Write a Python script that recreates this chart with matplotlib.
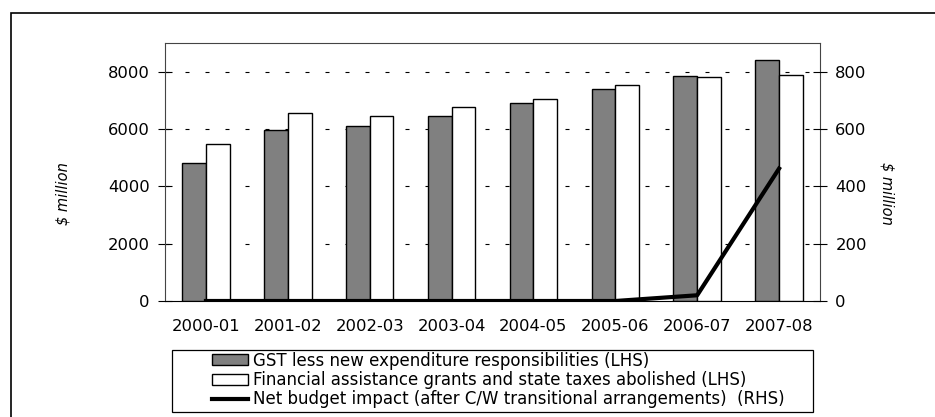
import numpy as np
import matplotlib.pyplot as plt
from matplotlib.patches import Rectangle

plt.rcParams['font.family'] = ['DejaVu Sans']

# data
years = ['2000-01', '2001-02', '2002-03', '2003-04', '2004-05', '2005-06', '2006-07', '2007-08']
gst_less = [4800, 5950, 6090, 6470, 6920, 7380, 7860, 8390]
fag_abolished = [5470, 6550, 6470, 6750, 7030, 7520, 7830, 7900]
net_impact = [0, 0, 0, 0, 0, 0, 20, 462]

fig = plt.figure(figsize=(9.35, 4.17), dpi=100)
# outer frame of the chart object
fig.patches.append(Rectangle((11 / 935, -0.05), 1.0, 1 - 13 / 417 + 0.05,
                             transform=fig.transFigure, fill=False,
                             edgecolor='black', linewidth=1.2))
# legend box
fig.patches.append(Rectangle((172 / 935, 1 - 412 / 417), (813 - 172) / 935, 62 / 417,
                             transform=fig.transFigure, fill=False,
                             edgecolor='black', linewidth=0.9))

ax = fig.add_axes([165 / 935, 1 - 301 / 417, (820 - 165) / 935, (301 - 43) / 417])
x = np.arange(len(years))
w = 0.29
ax.bar(x - w / 2, gst_less, w, color='#808080', edgecolor='black', linewidth=1,
       label='GST less new expenditure responsibilities (LHS)', zorder=3)
ax.bar(x + w / 2, fag_abolished, w, color='white', edgecolor='black', linewidth=1,
       label='Financial assistance grants and state taxes abolished (LHS)', zorder=3)

ax.set_xlim(-0.5, len(years) - 0.5)
ax.set_ylim(0, 9000)
ax.set_yticks([0, 2000, 4000, 6000, 8000])
ax.set_xticks(x)
ax.set_xticklabels(years)
ax.tick_params(axis='x', length=0, pad=13, labelsize=11.8)
ax.tick_params(axis='y', direction='inout', length=10, labelsize=11.8, pad=6)
for v in [2000, 4000, 6000, 8000]:
    ax.axhline(v, color='black', linestyle=(0, (3.6, 14.4)), linewidth=0.8, zorder=1)
for s in ['left', 'right', 'top']:
    ax.spines[s].set_color('#444444')
ax.spines['bottom'].set_color('black')
ax.set_ylabel('$ million', fontstyle='italic', fontsize=10.5)
ax.yaxis.set_label_coords(-0.145, 0.415)

ax2 = ax.twinx()
ax2.plot(x, net_impact, color='black', linewidth=3,
         label='Net budget impact (after C/W transitional arrangements)  (RHS)', zorder=4)
ax2.set_ylim(0, 900)
ax2.set_yticks([0, 200, 400, 600, 800])
ax2.tick_params(axis='y', direction='inout', length=10, labelsize=11.8, pad=6)
ax2.set_ylabel('$ million', fontstyle='italic', fontsize=10.5, rotation=270, va='center')
ax2.yaxis.set_label_coords(1.103, 0.415)
for s in ax2.spines.values():
    s.set_visible(False)

h1, l1 = ax.get_legend_handles_labels()
h2, l2 = ax2.get_legend_handles_labels()
leg = fig.legend(h1 + h2, l1 + l2, loc='center left',
                 bbox_to_anchor=(212 / 935, 1 - 380 / 417), ncol=1,
                 frameon=False, fontsize=12, handlelength=2.15, handleheight=0.65,
                 handletextpad=0.3, labelspacing=0.08, borderpad=0, borderaxespad=0)

fig.savefig('out.png', dpi=100)
